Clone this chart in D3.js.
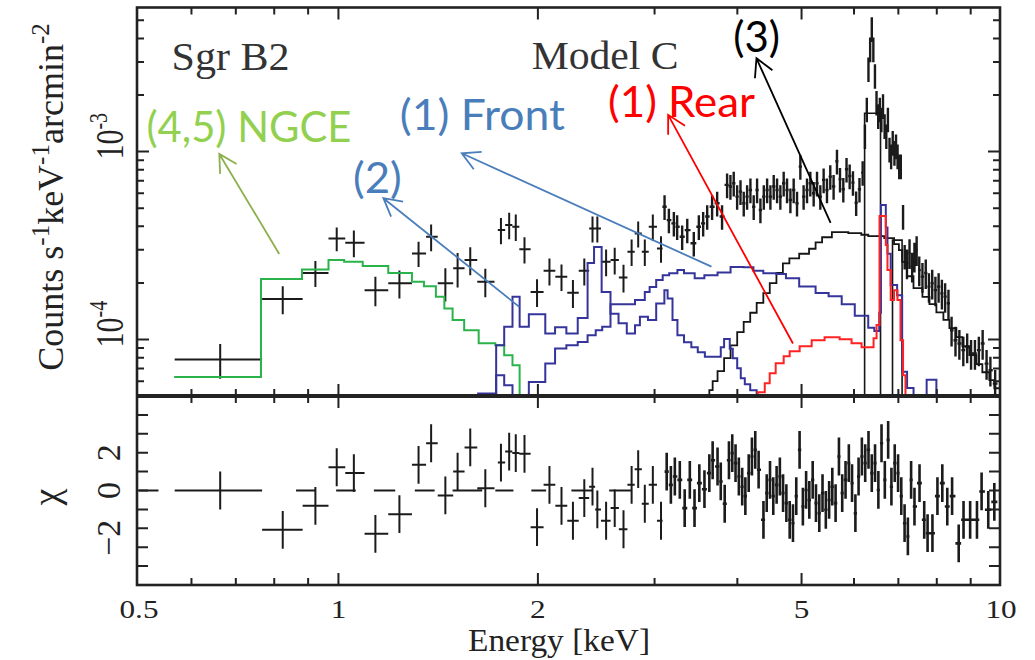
<!DOCTYPE html>
<html><head><meta charset="utf-8">
<script src="https://cdn.jsdelivr.net/npm/d3@7/dist/d3.min.js"></script>
<style>html,body{margin:0;padding:0;background:#fff;} svg{display:block}</style>
</head><body>
<svg id="chart" width="1035" height="660"></svg>
<script>
// ================= DATA =================
// axis ticks
const xMajorTicks = [1, 2, 5];
const xMinorTicks = [0.6, 0.7, 0.8, 0.9, 3, 4, 6, 7, 8, 9];
const xTickLabels = [0.5, 1, 2, 5, 10];
const yMajorTicks = [1e-4, 1e-3];
const yMajorExp   = ["-4", "-3"];
const yMinorTicks = [6e-5,7e-5,8e-5,9e-5,2e-4,3e-4,4e-4,5e-4,6e-4,7e-4,8e-4,9e-4,2e-3,3e-3,4e-3,5e-3];
const chiTicks = [-4,-3,-2,-1,0,1,2,3,4];
const chiTickLabels = [-2, 0, 2];

// low-energy spectrum bins (keV, counts/s/keV/arcmin^2) and their residuals
const lowE  = [0.663,0.824,0.923,0.994,1.055,1.137,1.236,1.321,1.38,1.45,1.513,1.581,1.666,
               1.759,1.81,1.852,1.909,1.994,2.082,2.171,2.259,2.35,2.418,2.459,2.535,2.612,2.693,2.77,2.834,2.9,2.982,3.068];
const lowLo = [0.566,0.767,0.883,0.966,1.024,1.095,1.189,1.291,1.356,1.412,1.49,1.55,1.62,
               1.74,1.785,1.83,1.875,1.95,2.04,2.125,2.215,2.305,2.39,2.44,2.49,2.575,2.65,2.73,2.80,2.87,2.94,3.025];
const lowHi = [0.767,0.883,0.966,1.024,1.095,1.189,1.291,1.356,1.412,1.49,1.55,1.62,1.72,
               1.785,1.83,1.875,1.95,2.04,2.125,2.215,2.305,2.39,2.44,2.49,2.575,2.65,2.73,2.80,2.87,2.94,3.025,3.085];
const lowF  = [7.82e-5,1.64e-4,2.26e-4,3.45e-4,3.27e-4,1.83e-4,1.99e-4,2.87e-4,3.52e-4,1.99e-4,2.39e-4,2.65e-4,2.03e-4,
               3.82e-4,4.07e-4,3.98e-4,3.02e-4,1.79e-4,2.32e-4,2.16e-4,1.77e-4,2.32e-4,3.90e-4,3.90e-4,2.59e-4,2.65e-4,2.14e-4,2.93e-4,3.67e-4,2.93e-4,3.98e-4,3.05e-4];
const lowErr= [1.65e-5,2.8e-5,3.6e-5,5.0e-5,5.3e-5,3.3e-5,3.4e-5,4.4e-5,5.7e-5,4.0e-5,5.0e-5,4.5e-5,3.5e-5,
               6.1e-5,6.5e-5,6.4e-5,4.8e-5,3.0e-5,3.8e-5,3.5e-5,3.0e-5,3.8e-5,6.2e-5,6.2e-5,4.2e-5,4.3e-5,3.6e-5,4.7e-5,5.8e-5,4.7e-5,6.4e-5,4.9e-5];
const lowChi= [0,-2.08,-0.81,1.23,0.92,-2.29,-1.25,1.36,2.5,-0.26,1.0,2.28,0.12,
               1.48,2.06,1.98,1.94,-1.94,0.3,-0.81,-1.6,-0.4,0.2,-1.0,-1.6,-0.93,-2.05,0.3,1.13,-0.7,0.3,-1.6];

// dense spectrum above 3.1 keV
const denseE = [3.106,3.153,3.208,3.245,3.302,3.361,3.438,3.499,3.552,3.602,
  3.664,3.729,3.793,3.86,3.905,3.95,3.997,4.044,4.09,4.138,
  4.186,4.234,4.284,4.334,4.385,4.436,4.487,4.539,4.592,4.645,
  4.699,4.754,4.81,4.865,4.922,4.979,5.036,5.096,5.155,5.215,
  5.276,5.337,5.399,5.462,5.525,5.589,5.655,5.715,5.781,5.846,
  5.91,5.978,6.045,6.115,6.183,6.232,6.273,6.309,6.346,6.382,
  6.417,6.453,6.488,6.526,6.563,6.599,6.636,6.673,6.713,6.75,
  6.788,6.826,6.864,6.905,6.943,6.981,7.02,7.059,7.115,7.155,
  7.212,7.277,7.343,7.402,7.459,7.527,7.611,7.699,7.785,7.874,
  7.962,8.051,8.143,8.235,8.331,8.422,8.537,8.653,8.772,8.891,
  9.012,9.134,9.259,9.382,9.511,9.638,9.799];
const denseF = [5.09e-4,4.32e-4,4.15e-4,3.98e-4,3.52e-4,3.82e-4,3.25e-4,3.98e-4,4.15e-4,4.51e-4,
  5.09e-4,5.31e-4,4.51e-4,6.65e-4,6.52e-4,6.79e-4,5.76e-4,6.12e-4,5.31e-4,5.76e-4,
  6.25e-4,5.09e-4,6.25e-4,4.89e-4,5.76e-4,6.25e-4,5.76e-4,6.52e-4,6.25e-4,5.76e-4,
  6.79e-4,6.25e-4,5.53e-4,6.25e-4,5.31e-4,8.32e-4,5.76e-4,6.25e-4,6.79e-4,6.0e-4,
  6.79e-4,5.76e-4,7.07e-4,6.25e-4,7.36e-4,6.52e-4,8.89e-4,7.12e-4,6.30e-4,8.05e-4,
  7.42e-4,6.84e-4,5.34e-4,6.30e-4,7.73e-4,1.213e-3,1.685e-3,2.76e-3,3.52e-3,4.51e-3,
  3.52e-3,2.54e-3,1.83e-3,1.553e-3,1.685e-3,1.49e-3,1.757e-3,1.373e-3,1.213e-3,1.49e-3,
  1.03e-3,9.48e-4,1.118e-3,9.89e-4,1.072e-3,9.48e-4,8.39e-4,8.39e-4,4.52e-4,2.77e-4,
  2.55e-4,2.89e-4,2.45e-4,2.77e-4,3.0e-4,2.34e-4,2.16e-4,2.26e-4,1.91e-4,1.99e-4,
  1.83e-4,1.91e-4,1.76e-4,1.69e-4,1.56e-4,1.12e-4,9.9e-5,9.51e-5,8.77e-5,9.12e-5,
  8.42e-5,8.42e-5,8.77e-5,9.51e-5,7.44e-5,6.86e-5,5.82e-5];
const denseRelErrLow  = 0.15;   // bars below 7.2 keV
const denseRelErrHigh = 0.18;   // bars above 7.2 keV

// dense residuals
const resE = [3.129,3.175,3.219,3.275,3.331,3.391,3.447,3.505,3.568,3.629,
  3.671,3.734,3.776,3.828,3.885,3.93,3.975,4.021,4.068,4.113,
  4.161,4.208,4.257,4.307,4.38,4.43,4.481,4.532,4.585,4.637,
  4.689,4.743,4.798,4.853,4.909,4.966,5.023,5.08,5.137,5.197,
  5.257,5.318,5.378,5.44,5.503,5.564,5.628,5.694,5.759,5.826,
  5.893,5.959,6.029,6.096,6.166,6.238,6.31,6.382,6.455,6.53,
  6.602,6.678,6.756,6.833,6.912,6.993,7.071,7.153,7.235,7.317,
  7.403,7.534,7.658,7.748,7.88,8.018,8.155,8.297,8.437,8.633,
  8.779,8.983,9.199,9.348,9.567,9.771];
const resChi = [1.0,0.3,0.74,0.56,-0.93,0.56,-0.93,0.39,0.07,0.92,
  1.6,1.27,0.48,-0.7,1.6,1.98,1.45,0.74,0.2,-0.3,
  0.92,1.8,2.15,1.1,-1.55,-0.14,0.56,-0.3,0.3,0.74,
  -0.14,-0.67,-1.55,-1.73,-0.3,2.15,-0.85,0.03,-0.5,0.56,
  -0.67,-1.2,-0.14,-1.02,-0.5,0.2,-0.67,1.8,-0.14,0.56,
  1.45,0.39,-1.2,0.74,1.8,1.45,2.15,0.92,1.45,0.03,
  2.5,0.56,2.68,0.2,1.45,0.92,-0.3,-1.73,-2.43,0.56,
  -0.85,0.39,-1.55,-2.26,-2.26,-0.3,0.39,-0.85,-0.3,-2.8,
  -1.55,-1.55,-1.55,-0.05,-1.02,-0.6];
const chiErr = 1;
// residual bins drawn flat at zero
const zeroLo = [0.5,0.863,0.992,1.131,1.304,1.487,1.725,1.955,2.247,2.562];
const zeroHi = [0.535,0.926,1.062,1.218,1.397,1.648,1.837,2.058,2.42,2.76];

// model components (bin edges in keV, level per bin; 0 = off scale)
const ngceEdges = [0.565,0.764,0.881,0.966,1.02,1.088,1.189,1.291,1.346,1.403,1.445,1.487,1.548,1.628,1.725,1.779,1.831,1.877,1.92];
const ngceF = [6.32e-5,2.10e-4,2.36e-4,2.65e-4,2.59e-4,2.46e-4,2.26e-4,2.03e-4,1.92e-4,1.69e-4,1.46e-4,1.27e-4,1.12e-4,9.54e-5,9.31e-5,8.25e-5,7.29e-5,0];

const comp2Edges = [1.625,1.73,1.779,1.831,1.877,1.938,2.052,2.123,2.208,2.297,2.377,2.431,2.496,2.574,2.647,2.724,2.803,2.851,2.932,3.017,
  3.104,3.139,3.193,3.248,3.323,3.409,3.486,3.573,3.776,3.82,3.896,3.937,3.998,4.048,4.105,4.183,4.278,4.4];
const comp2F = [5.16e-5,9.31e-5,1.17e-4,1.69e-4,1.17e-4,1.36e-4,1.076e-4,1.16e-4,1.076e-4,1.30e-4,2.55e-4,3.11e-4,1.79e-4,1.37e-4,1.22e-4,1.076e-4,1.19e-4,1.32e-4,1.27e-4,1.556e-4,
  1.83e-4,1.654e-4,1.27e-4,1.053e-4,9.66e-5,9.09e-5,8.56e-5,8.10e-5,9.09e-5,1.007e-4,8.93e-5,7.95e-5,7.03e-5,6.22e-5,5.78e-5,5.37e-5,0];

const frontEdges = [1.73,1.779,1.831,1.938,2.052,2.123,2.208,2.297,2.377,2.445,2.501,2.574,2.803,2.9,2.949,3.017,3.086,3.156,3.248,3.323,
  3.449,3.567,3.734,3.907,4.089,4.23,4.378,4.582,4.736,4.959,5.25,5.493,5.749,6.016,6.304,6.439,6.55,6.588,6.701,6.74,
  6.816,6.97,7.093,7.215,7.379,7.723,7.989,8.215];
const frontF = [6.45e-5,5.71e-5,0,5.94e-5,7.45e-5,8.94e-5,9.31e-5,9.70e-5,1.053e-4,1.12e-4,1.17e-4,1.54e-4,1.62e-4,1.79e-4,1.905e-4,2.07e-4,2.2e-4,2.25e-4,2.34e-4,2.25e-4,
  2.12e-4,2.2e-4,2.27e-4,2.43e-4,2.42e-4,2.32e-4,2.25e-4,2.23e-4,2.12e-4,1.915e-4,1.767e-4,1.70e-4,1.54e-4,1.337e-4,1.155e-4,1.11e-4,1.387e-4,5.2e-4,3.94e-4,2.86e-4,
  1.947e-4,1.72e-4,6.74e-5,5.52e-5,0,6.1e-5,0];

const rearEdges = [4.294,4.4,4.476,4.57,4.699,4.798,4.967,5.179,5.417,5.707,5.949,6.16,6.422,6.489,6.556,6.701,6.74,6.816,6.896,6.978,7.052,7.115,7.175];
const rearF = [5.24e-5,5.85e-5,6.61e-5,7.48e-5,8.15e-5,8.66e-5,9.2e-5,9.9e-5,1.028e-4,1.002e-4,9.54e-5,9.09e-5,1.015e-4,1.194e-4,4.54e-4,3.18e-4,2.34e-4,1.62e-4,1.83e-4,1.62e-4,9.9e-5,6.45e-5];

const comp3Edges = [3.629,3.671,3.734,3.82,3.907,3.998,4.089,4.183,4.278,4.378,4.477,4.582,4.686,4.793,4.959,5.132,5.25,5.37,5.556,5.882,
  6.153,6.304,6.664,6.896,7.013,7.093,7.215,7.378,7.611,7.798,7.989,8.186,8.358,8.564,8.744,8.958,9.178,9.372,9.602,9.77,10.0];
const comp3F = [5.37e-5,6.0e-5,6.78e-5,7.95e-5,9.31e-5,1.093e-4,1.239e-4,1.387e-4,1.567e-4,1.764e-4,1.995e-4,2.26e-4,2.54e-4,2.70e-4,2.86e-4,3.04e-4,3.29e-4,3.50e-4,3.73e-4,3.68e-4,
  3.61e-4,3.55e-4,3.46e-4,3.22e-4,2.99e-4,2.59e-4,2.17e-4,1.876e-4,1.687e-4,1.542e-4,1.395e-4,1.27e-4,1.148e-4,1.028e-4,9.2e-5,8.25e-5,7.39e-5,6.69e-5,6.07e-5,5.5e-5];

const lineEdges = [6.225,6.579,6.859,7.091];
const lineF = [1.6e-3,0,3.38e-4];

// annotations (labels and arrows, data coordinates)
const annText  = ["(4,5) NGCE","(2)","(1) Front","(1) Rear","(3)"];
const annTextE = [0.513,1.052,1.238,2.552,3.943];
const annTextF = [1.126e-3,6.02e-4,1.305e-3,1.531e-3,3.40e-3];
const annTailE = [0.814,1.875,3.656,4.853,5.531];
const annTailF = [2.85e-4,1.49e-4,2.44e-4,9.51e-5,4.18e-4];
const annHeadE = [0.661,1.169,1.535,3.145,4.275];
const annHeadF = [9.72e-4,5.65e-4,9.8e-4,1.569e-3,3.14e-3];
const panelTitles = ["Sgr B2","Model C"];
const panelTitleE = [0.560,1.957];
const panelTitleF = [2.73e-3,2.75e-3];

// ================= RENDERING =================
const svg = d3.select('#chart');
const L = 137, R = 1000, T = 7.5, M = 396, B = 585;
const x  = d3.scaleLog().domain([0.5, 10]).range([139, 1001]);
const y  = d3.scaleLog().domain([5e-5, 5.85e-3]).range([M, T]);
const yc = d3.scaleLinear().domain([-5, 5]).range([B, M]);
const FLOOR = 2e-5;
const SERIF = "'Liberation Serif','Times New Roman',serif";
const SANS = "Lato, 'Open Sans', sans-serif";
const INK = '#1b1b1b';

const defs = svg.append('defs');
defs.append('clipPath').attr('id','clipU').append('rect').attr('x',L).attr('y',T).attr('width',R-L).attr('height',M-T);
defs.append('clipPath').attr('id','clipL').append('rect').attr('x',L).attr('y',M).attr('width',R-L).attr('height',B-M);
svg.append('rect').attr('width',1035).attr('height',660).attr('fill','#fff');

const gU = svg.append('g').attr('clip-path','url(#clipU)');
const gL = svg.append('g').attr('clip-path','url(#clipL)');

function edgesFromCenters(E){
  return E.map((e,i)=>{
    const lo = i>0 ? Math.sqrt(E[i-1]*e) : e*e/Math.sqrt(e*E[i+1]);
    const hi = i<E.length-1 ? Math.sqrt(e*E[i+1]) : e*e/Math.sqrt(E[i-1]*e);
    return [lo,hi];
  });
}

// ---- upper panel data crosses ----
let dU = '';
lowE.forEach((e,i)=>{
  const yy = y(lowF[i]);
  dU += `M${x(lowLo[i])},${yy}H${x(lowHi[i])}`;
  dU += `M${x(e)},${y(lowF[i]+lowErr[i])}V${y(Math.max(lowF[i]-lowErr[i],1e-6))}`;
});
gU.append('path').attr('d',dU).attr('fill','none').attr('stroke',INK).attr('stroke-width',2);
let dD = '';
const dEdges = edgesFromCenters(denseE);
denseE.forEach((e,i)=>{
  const f = denseF[i];
  const rel = e > 7.2 ? denseRelErrHigh : denseRelErrLow;
  const yy = y(f);
  dD += `M${x(dEdges[i][0])},${yy}H${x(dEdges[i][1])}`;
  dD += `M${x(e)},${y(f*(1+rel))}V${y(f*(1-rel))}`;
});
gU.append('path').attr('d',dD).attr('fill','none').attr('stroke',INK).attr('stroke-width',2.4);

// ---- model step curves ----
function stepPath(edges, vals, leadIn){
  const pts = []; const yf = y(FLOOR);
  if (leadIn) pts.push([x(edges[0]), yf]);
  vals.forEach((v,i)=>{
    const yy = v>0 ? y(v) : yf;
    pts.push([x(edges[i]), yy], [x(edges[i+1]), yy]);
  });
  pts.push([x(edges[edges.length-1]), yf]);
  return d3.line()(pts);
}
const models = [
  {e: comp3Edges, f: comp3F, c:'#151515', lead:true, w:1.8},
  {e: lineEdges,  f: lineF,  c:'#151515', lead:true, w:1.6},
  {e: ngceEdges,  f: ngceF,  c:'#2bb34b', lead:false, w:2},
  {e: comp2Edges, f: comp2F, c:'#34349a', lead:true, w:2},
  {e: frontEdges, f: frontF, c:'#34349a', lead:true, w:2},
  {e: rearEdges,  f: rearF,  c:'#ff2222', lead:true, w:2},
];
models.forEach(m=>{
  gU.append('path').attr('d',stepPath(m.e,m.f,m.lead)).attr('fill','none')
    .attr('stroke',m.c).attr('stroke-width',m.w).attr('stroke-linejoin','miter');
});

// ---- lower panel residuals ----
let dL = '';
lowE.forEach((e,i)=>{
  const yy = yc(lowChi[i]);
  dL += `M${x(lowLo[i])},${yy}H${x(lowHi[i])}`;
  dL += `M${x(e)},${yc(lowChi[i]+chiErr)}V${yc(lowChi[i]-chiErr)}`;
});
zeroLo.forEach((lo,i)=>{ dL += `M${x(lo)},${yc(0)}H${x(zeroHi[i])}`; });
gL.append('path').attr('d',dL).attr('fill','none').attr('stroke',INK).attr('stroke-width',2);
let dR = '';
const rEdges = edgesFromCenters(resE);
resE.forEach((e,i)=>{
  const yy = yc(resChi[i]);
  dR += `M${x(rEdges[i][0])},${yy}H${x(rEdges[i][1])}`;
  dR += `M${x(e)},${yc(resChi[i]+chiErr)}V${yc(resChi[i]-chiErr)}`;
});
gL.append('path').attr('d',dR).attr('fill','none').attr('stroke',INK).attr('stroke-width',2.6);

// ---- frame and ticks ----
const frame = svg.append('g').attr('stroke','#222').attr('fill','none');
frame.append('rect').attr('x',L).attr('y',T).attr('width',R-L).attr('height',B-T).attr('stroke-width',2.6);
frame.append('line').attr('x1',L).attr('x2',R).attr('y1',M).attr('y2',M).attr('stroke-width',4);

let dT = '';
const MAJ = 12, MIN = 7;
xMajorTicks.forEach(v=>{ const xx=x(v);
  dT += `M${xx},${T}v${MAJ}M${xx},${M}v${-MAJ}M${xx},${M}v${MAJ}M${xx},${B}v${-MAJ}`; });
xMinorTicks.forEach(v=>{ const xx=x(v);
  dT += `M${xx},${T}v${MIN}M${xx},${M}v${-MIN}M${xx},${M}v${MIN}M${xx},${B}v${-MIN}`; });
yMajorTicks.forEach(v=>{ const yy=y(v); dT += `M${L},${yy}h${MAJ}M${R},${yy}h${-MAJ}`; });
yMinorTicks.forEach(v=>{ const yy=y(v); dT += `M${L},${yy}h${MIN}M${R},${yy}h${-MIN}`; });
chiTicks.forEach(v=>{ const yy=yc(v); dT += `M${L},${yy}h${11}M${R},${yy}h${-11}`; });
frame.append('path').attr('d',dT).attr('stroke-width',2);

// ---- axis labels ----
const txt = svg.append('g').attr('fill','#222').style('font-family',SERIF);
xTickLabels.forEach(v=>{
  txt.append('text').attr('transform',`translate(${x(v)},618) scale(1.2,1)`)
    .attr('text-anchor','middle').style('font-size','26px').text(String(v));
});
txt.append('text').attr('x',559).attr('y',651).attr('text-anchor','middle')
  .style('font-size','32px').attr('textLength',182).attr('lengthAdjust','spacingAndGlyphs').text('Energy [keV]');

yMajorTicks.forEach((v,i)=>{
  const t = txt.append('text').attr('transform',`translate(123,${y(v)}) scale(1.3,1) rotate(-90)`)
    .attr('x',-8).style('font-size','30px');
  t.append('tspan').text('10');
  t.append('tspan').attr('dy',-12).style('font-size','20px').text(yMajorExp[i]);
});
chiTickLabels.forEach(v=>{
  txt.append('text').attr('transform',`translate(120,${yc(v)}) rotate(-90)`)
    .attr('x',8.5).attr('text-anchor','end').style('font-size','34px')
    .text(v<0 ? '\u2212'+Math.abs(v) : String(v));
});
{
  const t = txt.append('text').attr('transform','translate(63,197) rotate(-90)')
    .attr('text-anchor','middle').style('font-size','36px');
  t.append('tspan').text('Counts s');
  t.append('tspan').attr('dy',-14).style('font-size','25px').text('-1');
  t.append('tspan').attr('dy',14).text('keV');
  t.append('tspan').attr('dy',-14).style('font-size','25px').text('-1');
  t.append('tspan').attr('dy',14).text('arcmin');
  t.append('tspan').attr('dy',-14).style('font-size','25px').text('-2');
}
txt.append('text').attr('transform','translate(59,497) rotate(-90)').attr('text-anchor','middle')
  .style('font-size','38px').text('\u03c7');

const titleLen = [118,147];
panelTitles.forEach((s,i)=>{
  txt.append('text').attr('x',x(panelTitleE[i])).attr('y',y(panelTitleF[i]))
    .attr('fill','#333').style('font-size','40px')
    .attr('textLength',titleLen[i]).attr('lengthAdjust','spacingAndGlyphs').text(s);
});

// ---- annotations ----
const annColors = ['#92d050','#4a7ebb','#4a7ebb','#ff0000','#000000'];
const arrColors = ['#8db04f','#4a7ebb','#4a7ebb','#ff0000','#000000'];
const annLen = [205,48.7,165,147,46.7];
const ga = svg.append('g');
annText.forEach((s,i)=>{
  ga.append('text').attr('x',x(annTextE[i])).attr('y',y(annTextF[i]))
    .attr('fill',annColors[i]).style('font-family',SANS).style('font-size','42px')
    .attr('textLength',annLen[i]).attr('lengthAdjust','spacingAndGlyphs').text(s);
  const hx=x(annHeadE[i]), hy=y(annHeadF[i]), tx=x(annTailE[i]), ty=y(annTailF[i]);
  const ang = Math.atan2(ty-hy, tx-hx), AL=20, AA=0.5;
  const d = `M${tx},${ty}L${hx},${hy}` +
    `M${hx+AL*Math.cos(ang+AA)},${hy+AL*Math.sin(ang+AA)}L${hx},${hy}L${hx+AL*Math.cos(ang-AA)},${hy+AL*Math.sin(ang-AA)}`;
  ga.append('path').attr('d',d).attr('fill','none').attr('stroke',arrColors[i]).attr('stroke-width',1.8);
});
</script>
</body></html>
